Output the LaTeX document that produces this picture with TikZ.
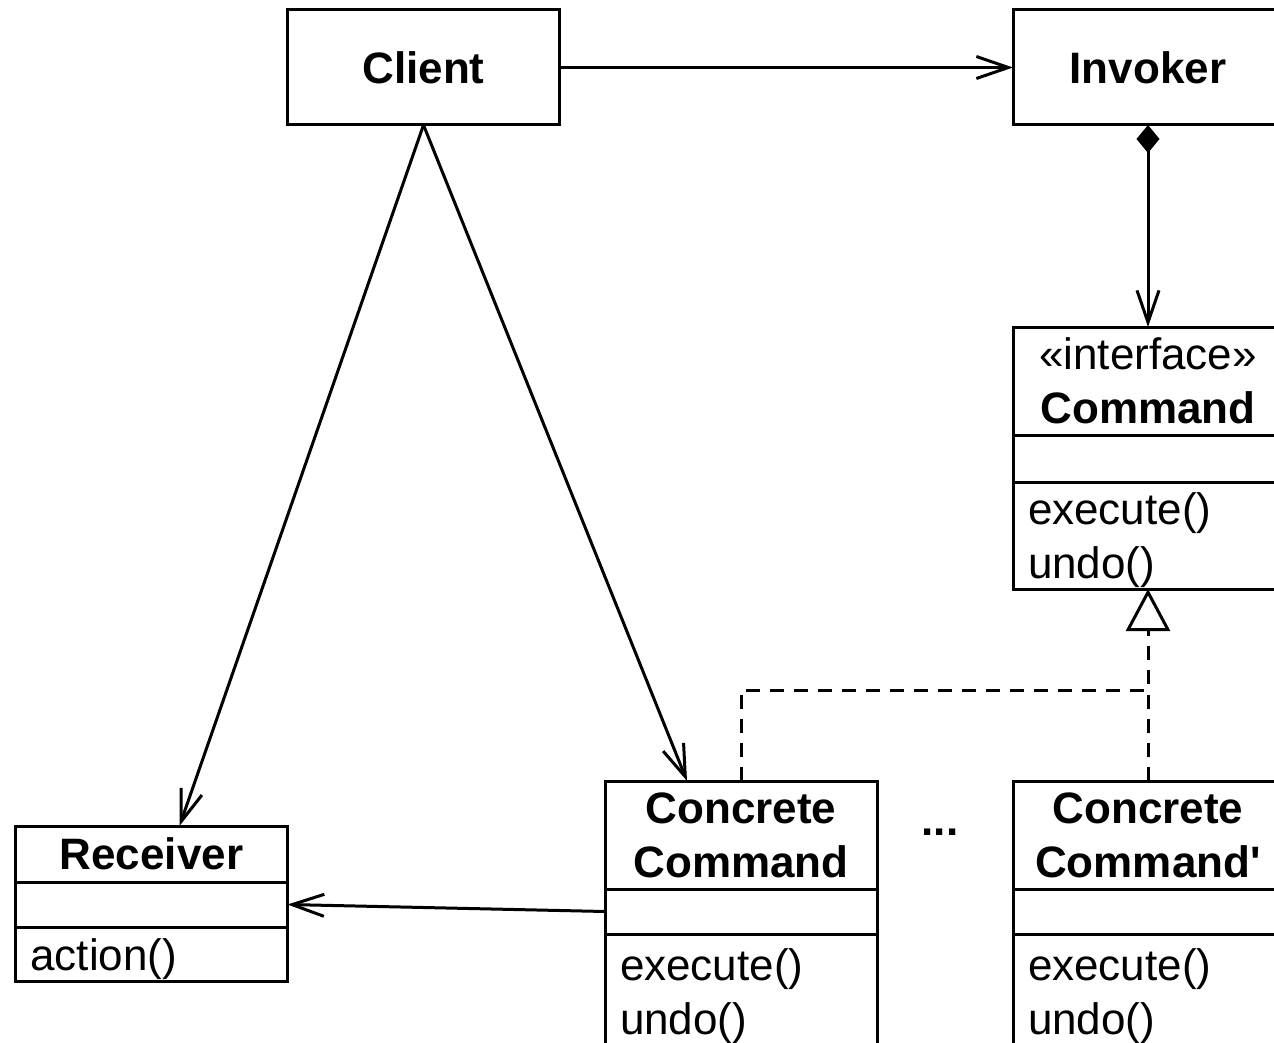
\documentclass[tikz,border=0pt]{standalone}
\usepackage{fontspec}
\setmainfont{Liberation Sans}
\usetikzlibrary{positioning,arrows.meta}

\begin{document}
\begin{tikzpicture}[x=0.5pt,y=-0.5pt,line width=1.5pt,
	font=\fontsize{22}{27}\selectfont]
	\tikzstyle{cls}=[draw,outer sep=0pt,inner sep=0pt,minimum width=136pt,align=center,font=\fontsize{22}{27}\selectfont\bfseries]
	\tikzstyle{attr}=[draw,outer sep=0pt,inner sep=0pt,minimum width=136pt,minimum height=22.5pt]
	\tikzstyle{ops}=[draw,outer sep=0pt,inner xsep=7.5pt,inner ysep=0pt,text width=121pt,align=left,execute at begin node={\rule{0pt}{21pt}}]
	\tikzstyle{assoc}=[-{Straight Barb[length=16pt,width=11pt]}]
	\tikzstyle{comp}=[{Diamond[length=14pt,width=11.5pt]}-{Straight Barb[length=16pt,width=11pt]}]
	\tikzstyle{realize}=[dashed,dash pattern=on 7pt off 5pt,-{Triangle[open,length=21pt,width=22pt]}]
	
	\useasboundingbox (0,0) rectangle (1274,1043);
	\clip (0,0) rectangle (1274,1043);
	
	% top row
	\node(client)[cls,minimum height=57.5pt] at (423.5,67.5) {Client};
	\node(invoker)[cls,minimum width=135pt,minimum height=57.5pt] at (1148,67.5) {Invoker};
	
	% interface
	\node(cmd)[cls,minimum width=135pt,minimum height=54pt] at (1148,381) {\mdseries«interface»\\Command};
	\node(cmd-a)[attr,minimum width=135pt,minimum height=23.5pt,below=0pt of cmd] {};
	\node(cmd-m)[ops,text width=120pt,minimum height=53.5pt,below=0pt of cmd-a] {execute()\\undo()};
	
	% concrete commands
	\node(cc)[cls,minimum height=54pt] at (741,835) {Concrete\\Command};
	\node(cc-a)[attr,below=0pt of cc] {};
	\node(cc-m)[ops,minimum height=57pt,below=0pt of cc-a] {execute()\\undo()};
	
	\node(ccp)[cls,minimum width=135pt,minimum height=54pt] at (1148,835) {Concrete\\Command\textquotesingle};
	\node(ccp-a)[attr,minimum width=135pt,below=0pt of ccp] {};
	\node(ccp-m)[ops,text width=120pt,minimum height=57pt,below=0pt of ccp-a] {execute()\\undo()};
	
	\node(dots) at (940,832) {\bfseries...};
	
	% receiver
	\node(rcv)[cls,minimum height=28pt] at (151.5,854) {Receiver};
	\node(rcv-a)[attr,below=0pt of rcv] {};
	\node(rcv-m)[ops,minimum height=27pt,below=0pt of rcv-a] {action()};
	
	% connectors
	\draw[assoc] (client) -- (invoker);
	\draw[comp] (invoker.south) -- (cmd.north);
	\draw[assoc] (client.south) -- ([xshift=14pt]rcv.north);
	\draw[assoc] (client.south) -- ([xshift=-27pt]cc.north);
	\draw[assoc] (cc-a.west) -- (rcv-a.east);
	
	\coordinate(joint) at (1148,690);
	\draw[realize] (cc.north) |- (joint) -- (cmd-m.south);
	\draw[dashed,dash pattern=on 7pt off 5pt] (ccp.north) -- (joint);
\end{tikzpicture}
\end{document}
